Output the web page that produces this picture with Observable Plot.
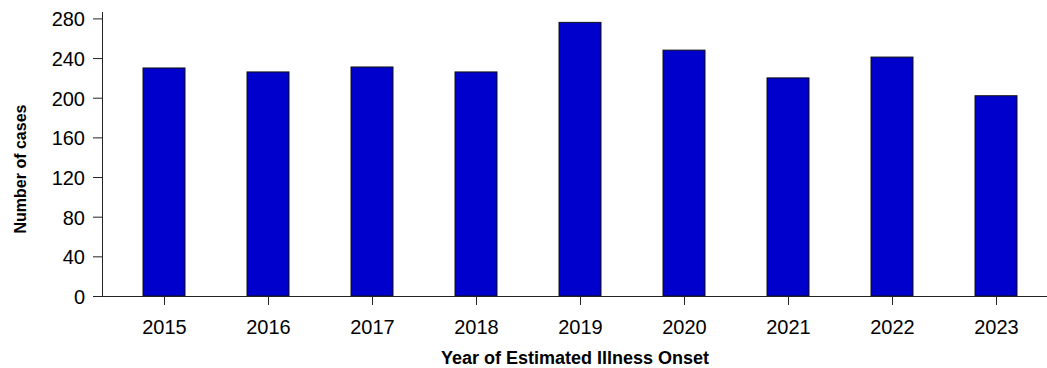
<!DOCTYPE html>
<html>
<head>
<meta charset="utf-8">
<script src="https://cdn.jsdelivr.net/npm/d3@7"></script>
<script src="https://cdn.jsdelivr.net/npm/@observablehq/plot@0.6"></script>
<style>
  html, body { margin: 0; padding: 0; background: #fff; }
  #chart svg { display: block; }
</style>
</head>
<body>
<div id="chart"></div>
<script>
const years = ["2015", "2016", "2017", "2018", "2019", "2020", "2021", "2022", "2023"];
const cases = [230, 226, 231, 226, 276, 248, 220, 241, 202];
const yTicks = [0, 40, 80, 120, 160, 200, 240, 280];
const xTitle = "Year of Estimated Illness Onset";
const yTitle = "Number of cases";

const data = years.map((year, i) => ({year, cases: cases[i]}));

const chart = Plot.plot({
  width: 1047,
  height: 368,
  marginLeft: 102,
  marginRight: 0,
  marginTop: 12,
  marginBottom: 72,
  style: {fontFamily: "'Liberation Sans', Arial, sans-serif", fontSize: "20px", color: "#000", background: "#fff"},
  x: {domain: years, range: [110.55, 1049.25], paddingInner: 0.6, paddingOuter: 0.3},
  y: {domain: [0, 280], range: [296, 18.4]},
  marks: [
    Plot.barY(data, {x: "year", y: "cases", fill: "#0000CC", stroke: "#111", strokeWidth: 1}),
    Plot.frame({anchor: "left", stroke: "#222"}),
    Plot.ruleY([0], {stroke: "#222"}),
    Plot.axisY({ticks: yTicks, tickSize: 9, tickFormat: () => "", label: null, stroke: "#222"}),
    Plot.axisY({ticks: yTicks, tickSize: 0, tickPadding: 17.5, dy: 1, label: null, fontSize: 20}),
    Plot.axisX({tickSize: 9, tickPadding: 14.5, label: null, stroke: "#222", fontSize: 20}),
    Plot.text([xTitle], {frameAnchor: "bottom", lineAnchor: "middle", dy: 62, fontSize: 18, fontWeight: "bold"}),
    Plot.text([yTitle], {frameAnchor: "left", textAnchor: "middle", lineAnchor: "middle", dx: -82, dy: 14.5, rotate: -90, fontSize: 16, fontWeight: "bold"})
  ]
});
document.getElementById("chart").append(chart);
</script>
</body>
</html>
